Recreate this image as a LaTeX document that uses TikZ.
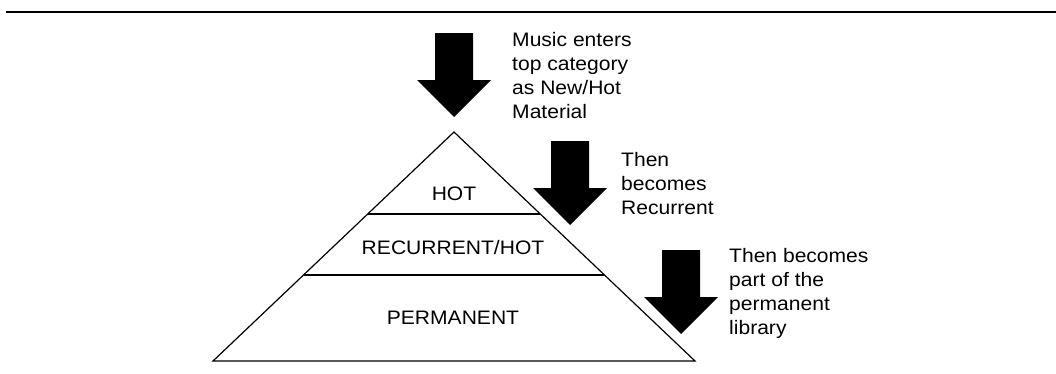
\documentclass[tikz,border=0pt]{standalone}
\usepackage{fontspec}
\setmainfont{Liberation Sans}[FakeStretch=1.08]
\begin{document}
\begin{tikzpicture}[x=1pt,y=-1pt,
  txt/.style={inner sep=0pt, font=\fontsize{19.5}{24}\selectfont},
  note/.style={txt, align=left, anchor=north west},
  layer/.style={txt, anchor=base},
  edge/.style={line width=1.2pt, line join=miter},
  blockarrow/.pic={\fill[black] (-19,0) -- (19,0) -- (19,47) -- (37,47) -- (0,84) -- (-37,47) -- (-19,47) -- cycle;}
]
\useasboundingbox (0,0) rectangle (1056,373);
% top rule
\coordinate (ruleL) at (6,12);
\coordinate (ruleR) at (1056,12);
\draw[line width=2.5pt] (ruleL) -- (ruleR);
% pyramid
\coordinate (apex) at (454,132);
\coordinate (bl) at (213,361);
\coordinate (br) at (695,361);
\draw[edge] (apex) -- (br) -- (bl) -- cycle;
\coordinate (l1a) at (368,214);
\coordinate (l1b) at (540,214);
\coordinate (l2a) at (304,275);
\coordinate (l2b) at (604,275);
\draw[edge] (l1a) -- (l1b);
\draw[edge] (l2a) -- (l2b);
\node[layer] (hot) at (454,200) {HOT};
\node[layer] (rec) at (453,254) {RECURRENT/HOT};
\node[layer] (perm) at (453,324) {PERMANENT};
% arrows
\pic at (454,33) {blockarrow};
\pic at (570,141) {blockarrow};
\pic at (681,250) {blockarrow};
% notes
\node[note] (n1) at (512,32) {Music enters\\top category\\as New/Hot\\Material};
\node[note] (n2) at (621,152) {Then\\becomes\\Recurrent};
\node[note] (n3) at (729,248) {Then becomes\\part of the\\permanent\\library};
\end{tikzpicture}
\end{document}
